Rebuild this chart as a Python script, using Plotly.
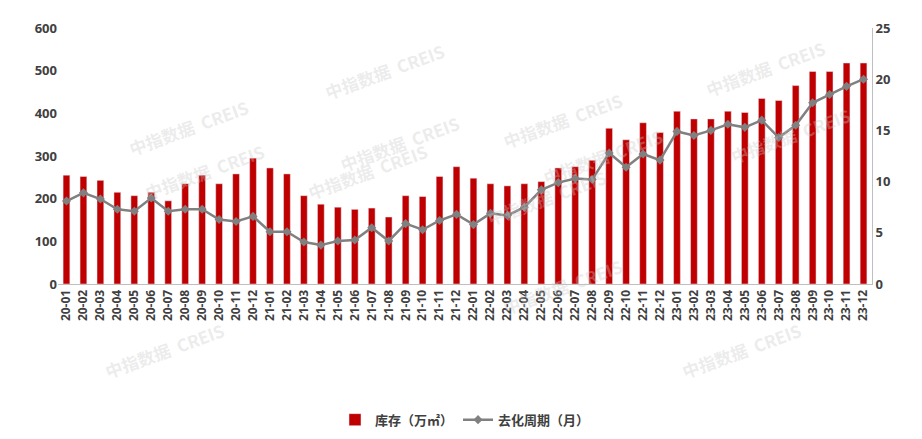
import plotly.graph_objects as go

months = [f"{y}-{m:02d}" for y in (20, 21, 22, 23) for m in range(1, 13)]
inventory = [255,252,243,215,207,215,195,235,255,235,258,295,
             272,258,207,187,180,175,178,157,207,205,252,275,
             248,235,230,235,240,272,275,290,365,338,378,355,
             405,387,387,405,402,435,430,465,498,498,518,518]
cycle = [8.1,8.9,8.3,7.3,7.1,8.4,7.1,7.3,7.3,6.3,6.1,6.6,
         5.1,5.1,4.1,3.8,4.2,4.3,5.5,4.2,5.9,5.3,6.2,6.8,
         5.8,6.9,6.7,7.5,9.2,9.9,10.3,10.2,12.8,11.4,12.7,12.1,
         14.9,14.5,15.0,15.6,15.3,16.0,14.3,15.5,17.7,18.5,19.3,20.0]

fig = go.Figure()
fig.add_bar(x=months, y=inventory, name="库存（万㎡）", marker_color="#C00000")
fig.add_scatter(x=months, y=cycle, name="去化周期（月）", yaxis="y2", mode="lines+markers",
                line=dict(color="#808080", width=2.5),
                marker=dict(symbol="diamond", size=7, color="#808080"))

tf = dict(family="Open Sans", size=13, color="#404040", weight="bold")
xf = dict(family="Open Sans", size=12, color="#404040", weight="bold")
fig.update_layout(
    width=922, height=439, margin=dict(l=50, r=58, t=20, b=163, autoexpand=False),
    plot_bgcolor="white", paper_bgcolor="white",
    font=tf, bargap=0.6,
    xaxis=dict(type="category", tickangle=-90, dtick=1, showline=True, linecolor="#BFBFBF",
               tickfont=xf, ticks="", automargin=False, range=[-0.5, 47.5]),
    yaxis=dict(range=[0, 600], dtick=100, showgrid=False, tickfont=tf, zeroline=False, automargin=False),
    yaxis2=dict(range=[0, 25], dtick=5, overlaying="y", side="right", showgrid=False, tickfont=tf,
                automargin=False, showline=True, linecolor="#BFBFBF"),
    legend=dict(orientation="h", x=0.5, xanchor="center", y=-0.53, yanchor="middle",
                font=dict(family="Noto Sans CJK SC", size=13, color="#404040")),
)
for (x, y) in [(0.32, 0.97), (0.08, 0.75), (0.7, 0.78), (0.42, 0.55), (0.95, 0.98), (0.98, 0.72),
               (0.1, 0.3), (0.75, 0.5), (0.3, 0.3), (0.6, 0.2), (0.05, -0.4), (0.92, -0.4), (0.62, -0.15)]:
    fig.add_annotation(text="中指数据  CREIS", xref="paper", yref="paper", x=x, y=y, showarrow=False,
                       textangle=-20, font=dict(size=17, color="rgba(200,200,200,0.35)", family="Noto Sans CJK SC"))
fig.write_html("out.html")
